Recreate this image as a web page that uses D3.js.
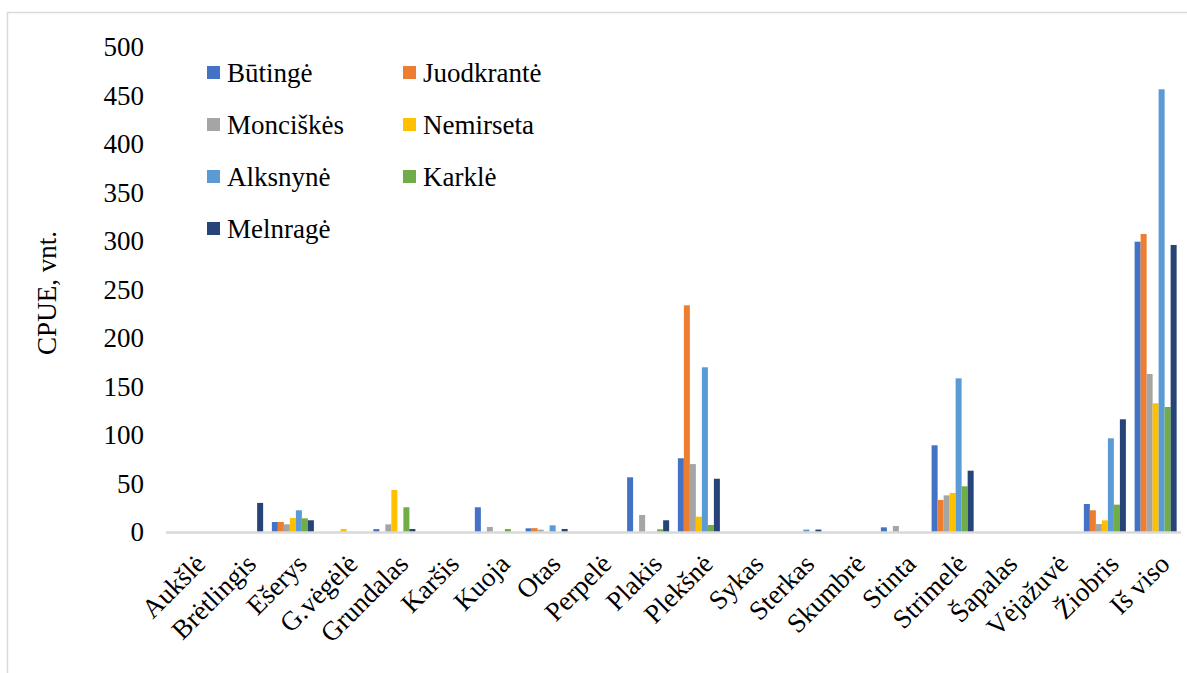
<!DOCTYPE html>
<html>
<head>
<meta charset="utf-8">
<script src="https://cdn.jsdelivr.net/npm/d3@7"></script>
<style>
html,body{margin:0;padding:0;background:#fff;}
svg{display:block;font-family:"Liberation Serif","Times New Roman",serif;}
</style>
</head>
<body>
<svg id="chart" width="1187" height="673"></svg>
<script>
const categories = ["Aukšlė","Brėtlingis","Ešerys","G.vėgėlė","Grundalas","Karšis","Kuoja","Otas","Perpelė","Plakis","Plekšnė","Sykas","Sterkas","Skumbrė","Stinta","Strimelė","Šapalas","Vėjažuvė","Žiobris","Iš viso"];
const seriesNames = ["Būtingė","Juodkrantė","Monciškės","Nemirseta","Alksnynė","Karklė","Melnragė"];
const butinge    = [0,0,10.3,0,3.0,0,25.5,3.8,0,56.4,76.0,0,0,0,4.8,89.4,0,0,28.9,299.3];
const juodkrante = [0,0,10.3,0,0,0,0,4.0,0,0,233.7,0,0,0,0,33.0,0,0,22.4,307.2];
const monciskes  = [0,0,7.9,0,7.9,0,5.2,2.4,0,17.5,70.0,0,0,0,6.2,37.8,0,0,8.2,162.9];
const nemirseta  = [0,0,14.4,3.1,43.3,0,0,0,0,0,15.8,0,0,0,0,40.2,0,0,12.0,132.7];
const alksnyne   = [0,0,22.4,0,0,0,0,6.9,0,0,169.8,0,2.5,0,0,158.4,0,0,96.6,456.4];
const karkle     = [0,0,14.1,0,25.5,0,3.1,0,0,2.8,7.2,0,0,0,0,47.1,0,0,28.2,128.9];
const melnrage   = [0,30.0,12.1,0,3.1,0,0,3.1,0,12.1,54.9,0,2.5,0,0,63.2,0,0,116.2,295.9];
const yTicks = [0,50,100,150,200,250,300,350,400,450,500];
const colors = ["#4472C4","#ED7D31","#A5A5A5","#FFC000","#5B9BD5","#70AD47","#264478"];
const yTitle = "CPUE, vnt.";

const seriesValues = [butinge,juodkrante,monciskes,nemirseta,alksnyne,karkle,melnrage];

const svg = d3.select("#chart");
const pLeft = 166, pRight = 1181, pTop = 47, pBottom = 532;
const fs = 27;

// chart border
svg.append("rect").attr("x",7.5).attr("y",12.5).attr("width",1200).attr("height",700)
  .attr("fill","none").attr("stroke","#d9d9d9").attr("stroke-width",1.5);

const x = d3.scaleBand().domain(categories).range([pLeft,pRight]).paddingInner(0.172).paddingOuter(0.086);
const xs = d3.scaleBand().domain(seriesNames).range([0,x.bandwidth()]);
const y = d3.scaleLinear().domain([0,500]).range([pBottom,pTop]);

// bars
const groups = svg.append("g").selectAll("g").data(categories).join("g")
  .attr("transform",c=>`translate(${x(c)},0)`);
groups.selectAll("rect")
  .data((c,i)=>seriesNames.map((s,j)=>({s,j,v:seriesValues[j][i]})))
  .join("rect")
  .attr("x",d=>xs(d.s)).attr("width",xs.bandwidth())
  .attr("y",d=>y(d.v)).attr("height",d=>y(0)-y(d.v))
  .attr("fill",d=>colors[d.j]);

// x axis line
svg.append("line").attr("x1",pLeft).attr("x2",pRight).attr("y1",y(0)+0.5).attr("y2",y(0)+0.5)
  .attr("stroke","#d9d9d9").attr("stroke-width",2.5);

// y axis
const yAxis = d3.axisLeft(y).tickValues(yTicks).tickSize(0).tickPadding(0);
const yg = svg.append("g").attr("transform",`translate(144,0)`).call(yAxis);
yg.select(".domain").remove();
yg.selectAll("text").attr("font-size",fs).attr("fill","#000")
  .attr("font-family","'Liberation Serif','Times New Roman',serif");

// x labels
const xAxis = d3.axisBottom(x).tickSize(0).tickPadding(0);
const xg = svg.append("g").attr("transform",`translate(0,${pBottom})`).call(xAxis);
xg.select(".domain").remove();
xg.selectAll("text")
  .attr("font-size",fs).attr("fill","#000")
  .attr("font-family","'Liberation Serif','Times New Roman',serif")
  .attr("text-anchor","end")
  .attr("dy",null)
  .attr("transform","translate(2,20) rotate(-45)")
  .attr("y",0).attr("x",0).attr("dominant-baseline","hanging");

// y title
svg.append("text").attr("transform","translate(56,293) rotate(-90)")
  .attr("text-anchor","middle").attr("font-size",fs).text(yTitle);

// legend
const legX = [207,403], legY = [73,125,177,229];
const leg = svg.append("g").selectAll("g").data(seriesNames).join("g")
  .attr("transform",(d,i)=>`translate(${legX[i%2]},${legY[Math.floor(i/2)]})`);
leg.append("rect").attr("x",0).attr("y",-7).attr("width",13).attr("height",13).attr("fill",(d,i)=>colors[i]);
leg.append("text").attr("x",20).attr("y",9).attr("font-size",fs).text(d=>d);
</script>
</body>
</html>
